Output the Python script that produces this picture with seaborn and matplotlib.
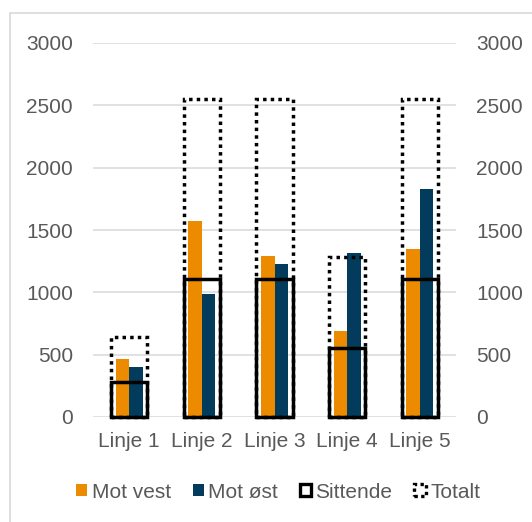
import matplotlib
matplotlib.use("Agg")
import matplotlib.pyplot as plt
import pandas as pd
import seaborn as sns
from matplotlib.patches import Patch, Rectangle

# Passenger counts per line
linjer = ["Linje 1", "Linje 2", "Linje 3", "Linje 4", "Linje 5"]
mot_vest = [465, 1570, 1290, 690, 1345]
mot_ost = [400, 990, 1230, 1315, 1830]
sittende = [278, 1110, 1110, 557, 1110]
totalt = [640, 2550, 2550, 1280, 2550]
y_ticks = [0, 500, 1000, 1500, 2000, 2500, 3000]

ORANGE = "#EC8A00"
BLUE = "#023B5B"
TEXT = "#595959"
GRID = "#D9D9D9"
FS = 15

sns.set_theme(style="white")
plt.rcParams["font.family"] = ["Liberation Sans", "DejaVu Sans"]

fig = plt.figure(figsize=(5.32, 5.22), dpi=100)
ax = fig.add_axes([93 / 532, 1 - 417 / 522, 363 / 532, 374 / 522])

df = pd.DataFrame({
    "Linje": linjer * 2,
    "Retning": ["Mot vest"] * len(linjer) + ["Mot øst"] * len(linjer),
    "Passasjerer": mot_vest + mot_ost,
})

sns.barplot(data=df, x="Linje", y="Passasjerer", hue="Retning",
            palette=[ORANGE, BLUE], width=0.37, gap=0, saturation=1,
            errorbar=None, legend=False, linewidth=0, ax=ax)

# Seat capacity (solid outline) and total capacity (dotted outline)
sns.barplot(x=linjer, y=sittende, fill=False, color="black", width=0.5,
            linewidth=2.5, errorbar=None, ax=ax, clip_on=False)
sns.barplot(x=linjer, y=totalt, fill=False, color="black", width=0.5,
            linewidth=2.5, linestyle=(0, (1, 1.2)), errorbar=None, ax=ax,
            clip_on=False)

ax.set_xlim(-0.5, len(linjer) - 0.5)
ax.set_ylim(0, 3000)
ax.set_yticks(y_ticks)
ax.set_yticklabels([str(v) for v in y_ticks])
ax.yaxis.grid(True, color=GRID, linewidth=1.1)
ax.set_axisbelow(True)
for s in ax.spines.values():
    s.set_visible(False)
ax.set_xlabel("")
ax.set_ylabel("")
ax.tick_params(axis="y", length=0, left=False, right=False, labelleft=True,
               labelright=True, pad=14.5, labelsize=FS, labelcolor=TEXT)
ax.tick_params(axis="x", length=0, bottom=False, pad=11, labelsize=FS,
               labelcolor=TEXT)

handles = [
    Patch(facecolor=ORANGE, edgecolor="none", label="Mot vest"),
    Patch(facecolor=BLUE, edgecolor="none", label="Mot øst"),
    Patch(facecolor="white", edgecolor="black", linewidth=2.4, label="Sittende"),
    Patch(facecolor="white", edgecolor="black", linewidth=2.4,
          linestyle=(0, (1, 1)), label="Totalt"),
]
fig.legend(handles=handles, loc="center", bbox_to_anchor=(278 / 532, 1 - 492 / 522),
           ncol=4, frameon=False, fontsize=FS, handlelength=0.55,
           handleheight=0.55, handletextpad=0.2, columnspacing=1.05,
           labelcolor=TEXT, borderaxespad=0)

# Chart area border
fig.add_artist(Rectangle((10 / 532, -0.2), 2, 1.2 - 13 / 522,
                         transform=fig.transFigure, fill=False,
                         edgecolor=GRID, linewidth=1.2))

fig.savefig("out.png", dpi=100)
